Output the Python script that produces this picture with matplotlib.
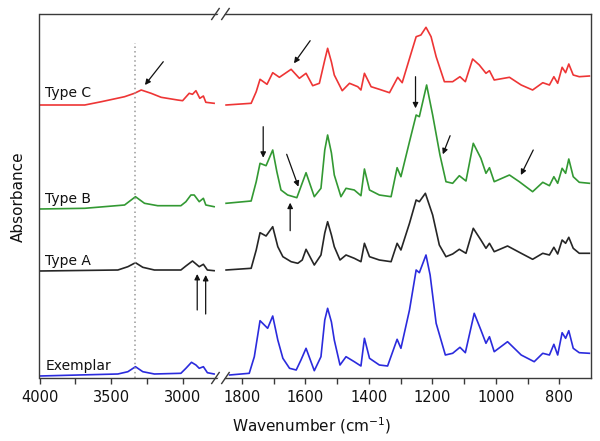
import matplotlib
matplotlib.use("Agg")
import matplotlib.pyplot as plt
from matplotlib.lines import Line2D
from matplotlib.patches import Polygon

plt.rcParams['font.family'] = ['DejaVu Sans']

# ---------------- data (wavenumber cm-1, absorbance with offsets) -------------
# high-wavenumber segment (4000 - 2780)
wn_c_hi = [4000, 3684, 3568, 3406, 3337, 3290, 3221, 3151, 3036, 3001, 2955, 2932, 2908, 2881, 2856, 2839, 2781]
ab_c_hi = [2.73, 2.73, 2.763, 2.813, 2.847, 2.88, 2.847, 2.807, 2.78, 2.773, 2.847, 2.837, 2.873, 2.797, 2.82, 2.757, 2.747]

wn_b_hi = [4000, 3684, 3406, 3330, 3267, 3175, 3013, 2978, 2943, 2920, 2885, 2856, 2839, 2781]
ab_b_hi = [1.69, 1.697, 1.73, 1.813, 1.747, 1.723, 1.723, 1.763, 1.83, 1.83, 1.763, 1.797, 1.73, 1.713]

wn_a_hi = [4000, 3453, 3383, 3330, 3279, 3198, 3013, 2978, 2932, 2885, 2856, 2828, 2781]
ab_a_hi = [1.07, 1.08, 1.113, 1.153, 1.107, 1.08, 1.08, 1.12, 1.17, 1.113, 1.137, 1.08, 1.073]

wn_e_hi = [4000, 3453, 3383, 3330, 3279, 3198, 3013, 2978, 2939, 2908, 2885, 2856, 2828, 2781]
ab_e_hi = [0.02, 0.04, 0.063, 0.113, 0.063, 0.04, 0.047, 0.097, 0.157, 0.13, 0.097, 0.113, 0.053, 0.04]

# fingerprint segment (1850 - 705)
wn_c_lo = [1850, 1771, 1755, 1743, 1721, 1703, 1682, 1645, 1619, 1598, 1577, 1556, 1539, 1530, 1518, 1509,
           1484, 1461, 1435, 1425, 1414, 1393, 1367, 1335, 1309, 1295, 1267, 1251, 1236, 1220, 1204, 1188,
           1162, 1136, 1113, 1096, 1073, 1052, 1031, 1020, 1005, 957, 920, 884, 852, 831, 817, 805, 791,
           780, 770, 756, 737, 705]
ab_c_lo = [2.73, 2.747, 2.863, 2.987, 2.937, 3.053, 3.007, 3.087, 2.997, 3.047, 2.923, 2.947, 3.18, 3.297, 3.16, 3.03,
           2.873, 2.947, 2.913, 2.88, 3.047, 2.913, 2.887, 2.853, 3.007, 2.953, 3.247, 3.413, 3.43, 3.507, 3.413, 3.213,
           2.963, 2.963, 3.013, 2.963, 3.19, 3.13, 3.047, 3.073, 2.98, 3.007, 2.93, 2.88, 2.953, 2.93, 3.013, 2.947, 3.107,
           3.053, 3.14, 3.03, 3.013, 3.02]

wn_b_lo = [1850, 1771, 1755, 1743, 1724, 1703, 1690, 1677, 1656, 1627, 1598, 1572, 1551, 1539, 1530, 1518, 1509,
           1488, 1472, 1446, 1425, 1414, 1398, 1367, 1330, 1311, 1299, 1272, 1251, 1241, 1218, 1199, 1176,
           1157, 1136, 1115, 1094, 1071, 1047, 1031, 1020, 1005, 957, 926, 884, 852, 831, 817, 805, 791,
           780, 770, 756, 737, 705]
ab_b_lo = [1.747, 1.77, 1.963, 2.147, 2.123, 2.28, 2.063, 1.88, 1.83, 1.803, 2.053, 1.813, 1.897, 2.28, 2.43, 2.25, 2.03,
           1.813, 1.897, 1.88, 1.823, 2.09, 1.88, 1.83, 1.813, 2.103, 2.013, 2.363, 2.63, 2.613, 2.93, 2.63, 2.23,
           1.963, 1.947, 2.023, 1.97, 2.347, 2.197, 2.047, 2.103, 1.963, 2.03, 1.963, 1.863, 1.957, 1.923, 2.013, 1.947, 2.097,
           2.047, 2.19, 2.013, 1.957, 1.947]

wn_a_lo = [1850, 1771, 1755, 1743, 1724, 1703, 1687, 1671, 1645, 1624, 1610, 1598, 1572, 1551, 1539, 1530, 1518, 1509,
           1491, 1472, 1446, 1425, 1414, 1398, 1367, 1330, 1311, 1299, 1272, 1251, 1241, 1222, 1199, 1178,
           1157, 1136, 1115, 1094, 1071, 1047, 1031, 1020, 1005, 963, 920, 884, 852, 831, 817, 805, 791,
           780, 770, 756, 737, 705]
ab_a_lo = [1.08, 1.097, 1.28, 1.453, 1.42, 1.513, 1.313, 1.213, 1.163, 1.147, 1.18, 1.287, 1.13, 1.23, 1.45, 1.563, 1.43, 1.313,
           1.18, 1.23, 1.197, 1.163, 1.347, 1.213, 1.18, 1.163, 1.347, 1.28, 1.547, 1.78, 1.763, 1.847, 1.63, 1.33,
           1.213, 1.24, 1.287, 1.247, 1.497, 1.38, 1.297, 1.347, 1.263, 1.32, 1.247, 1.187, 1.247, 1.23, 1.307, 1.24, 1.38,
           1.347, 1.407, 1.297, 1.247, 1.247]

wn_e_lo = [1839, 1777, 1761, 1743, 1719, 1703, 1687, 1671, 1650, 1629, 1614, 1598, 1572, 1551, 1539, 1530, 1518, 1509,
           1491, 1472, 1446, 1425, 1414, 1398, 1367, 1341, 1311, 1299, 1272, 1251, 1241, 1220, 1207, 1188,
           1159, 1136, 1113, 1096, 1068, 1047, 1031, 1020, 1005, 963, 920, 879, 852, 831, 817, 805, 791,
           780, 770, 756, 737, 705]
ab_e_lo = [0.03, 0.047, 0.213, 0.573, 0.497, 0.62, 0.38, 0.197, 0.097, 0.08, 0.18, 0.297, 0.073, 0.213, 0.58, 0.697, 0.56, 0.38,
           0.13, 0.213, 0.163, 0.12, 0.397, 0.197, 0.13, 0.12, 0.387, 0.297, 0.68, 1.08, 1.053, 1.23, 1.03, 0.547,
           0.23, 0.247, 0.307, 0.253, 0.647, 0.48, 0.347, 0.413, 0.263, 0.363, 0.23, 0.163, 0.247, 0.23, 0.337, 0.23, 0.453,
           0.397, 0.473, 0.297, 0.253, 0.247]

series_names = ["Type C", "Type B", "Type A", "Exemplar"]
series_colors = ["#ee3535", "#339933", "#262626", "#2b2bdd"]
label_y = [2.81, 1.755, 1.13, 0.08]

ticks_hi = [4000, 3750, 3500, 3250, 3000]
ticklabels_hi = ["4000", "", "3500", "", "3000"]
ticks_lo = [1800, 1700, 1600, 1500, 1400, 1300, 1200, 1100, 1000, 900, 800]
ticklabels_lo = ["1800", "", "1600", "", "1400", "", "1200", "", "1000", "", "800"]

# ---------------- figure ---------------
W, H = 600, 441
fig = plt.figure(figsize=(6, 4.41), dpi=100)

def fx(px):
    return px / W

def fy(py):
    return 1 - py / H

x_left, x_break, x_right = 39.5, 221, 591
y_top, y_bot = 14, 378
ax1 = fig.add_axes([fx(x_left), fy(y_bot), fx(x_break) - fx(x_left), fy(y_top) - fy(y_bot)])
ax2 = fig.add_axes([fx(x_break), fy(y_bot), fx(x_right) - fx(x_break), fy(y_top) - fy(y_bot)])

hi = [(wn_c_hi, ab_c_hi), (wn_b_hi, ab_b_hi), (wn_a_hi, ab_a_hi), (wn_e_hi, ab_e_hi)]
lo = [(wn_c_lo, ab_c_lo), (wn_b_lo, ab_b_lo), (wn_a_lo, ab_a_lo), (wn_e_lo, ab_e_lo)]

spine_c = "#3a3a3a"
for ax in (ax1, ax2):
    ax.set_ylim(0, 3.64)
    ax.set_yticks([])
    for s in ax.spines.values():
        s.set_color(spine_c)
        s.set_linewidth(1.0)
    ax.tick_params(axis='x', direction='out', length=4, width=1, color=spine_c,
                   labelsize=10.5, pad=5, labelcolor="#111111")

ax1.set_xlim(4000, 2733)
ax2.set_xlim(1866, 700)
ax1.spines['right'].set_visible(False)
ax2.spines['left'].set_visible(False)
ax1.set_xticks(ticks_hi)
ax1.set_xticklabels(ticklabels_hi)
ax2.set_xticks(ticks_lo)
ax2.set_xticklabels(ticklabels_lo)

for (w, a), c in zip(hi, series_colors):
    ax1.plot(w, a, color=c, lw=1.2, solid_joinstyle='round')
for (w, a), c in zip(lo, series_colors):
    ax2.plot(w, a, color=c, lw=1.2, solid_joinstyle='round')

for name, ly in zip(series_names, label_y):
    ax1.text(3960, ly, name, fontsize=10, ha='left', va='baseline', color="#111111")

# dotted reference line
ax1.plot([3330, 3330], [0, 3.35], color="#999999", lw=1.1, ls=(0, (1, 2)))

# arrows
ap = dict(arrowstyle='-|>', color='#111111', lw=0.9, mutation_scale=8, shrinkA=0, shrinkB=0)
ax1.annotate("", xy=(3264, 2.93), xytext=(3136, 3.163), arrowprops=ap)
ax1.annotate("", xy=(2899, 1.04), xytext=(2899, 0.68), arrowprops=ap)
ax1.annotate("", xy=(2840, 1.03), xytext=(2840, 0.64), arrowprops=ap)
ax2.annotate("", xy=(1636, 3.147), xytext=(1585, 3.373), arrowprops=ap)
ax2.annotate("", xy=(1733, 2.203), xytext=(1733, 2.513), arrowprops=ap)
ax2.annotate("", xy=(1622, 1.913), xytext=(1659, 2.237), arrowprops=ap)
ax2.annotate("", xy=(1648, 1.753), xytext=(1648, 1.473), arrowprops=ap)
ax2.annotate("", xy=(1253, 2.697), xytext=(1253, 3.013), arrowprops=ap)
ax2.annotate("", xy=(1167, 2.237), xytext=(1144, 2.423), arrowprops=ap)
ax2.annotate("", xy=(921, 2.03), xytext=(882, 2.28), arrowprops=ap)

# axis break marks
for yc in (y_top, y_bot):
    gap = Polygon([(fx(215.0), fy(yc + 5)), (fx(221.7), fy(yc + 5)),
                   (fx(228.3), fy(yc - 5)), (fx(221.6), fy(yc - 5))],
                  closed=True, transform=fig.transFigure, facecolor='white',
                  edgecolor='none', zorder=10)
    fig.add_artist(gap)
    for x0 in (211.7, 221.7):
        fig.add_artist(Line2D([fx(x0), fx(x0 + 7.5)], [fy(yc + 5.5), fy(yc - 5.5)],
                              transform=fig.transFigure, color=spine_c, lw=1.0, zorder=11))

fig.text(fx(312), fy(426), "Wavenumber (cm$^{-1}$)", ha='center', va='center',
         fontsize=11, color="#111111")
fig.text(fx(18), fy(197), "Absorbance", ha='center', va='center', rotation=90,
         fontsize=11, color="#111111")

fig.savefig("out.png", dpi=100)
